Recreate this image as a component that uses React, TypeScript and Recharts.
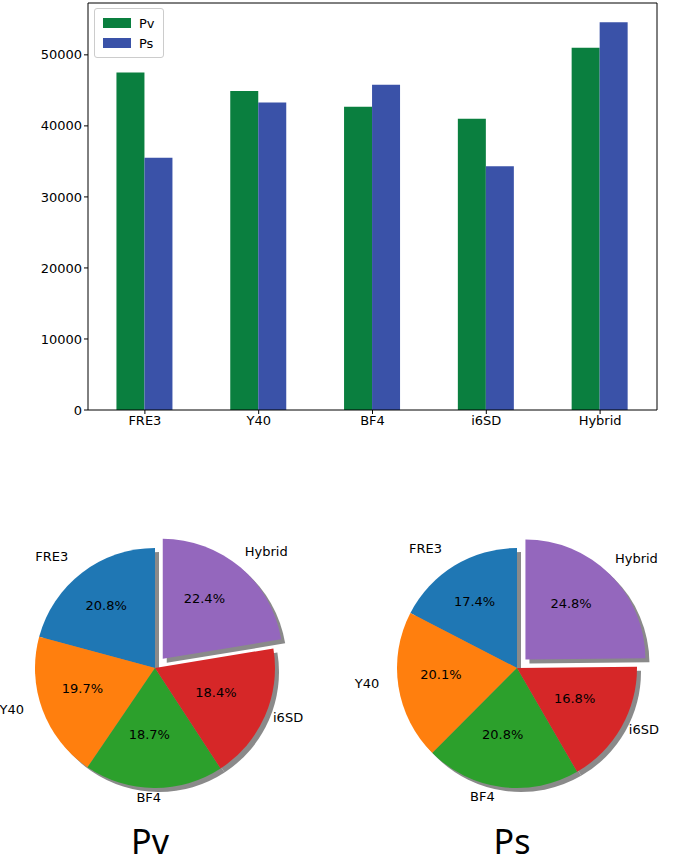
import { Bar, BarChart, Pie, PieChart, Cell, XAxis, YAxis } from "recharts";

const categories = ["FRE3", "Y40", "BF4", "i6SD", "Hybrid"];
const pvValues = [47500, 44900, 42700, 41000, 51000];
const psValues = [35500, 43300, 45800, 34300, 54600];
const yTicks = [0, 10000, 20000, 30000, 40000, 50000];
const pvShares = [20.8, 19.7, 18.7, 18.4, 22.4];
const psShares = [17.4, 20.1, 20.8, 16.8, 24.8];
const pieColors = ["#1f77b4", "#ff7f0e", "#2ca02c", "#d62728", "#9467bd"];

const barData = categories.map((c, i) => ({ name: c, Pv: pvValues[i], Ps: psValues[i] }));
const font = "DejaVu Sans, sans-serif";
const RAD = Math.PI / 180;

function ExplodedPie({ shares, left, title }: { shares: number[]; left: number; title: string }) {
  const data = categories.map((c, i) => ({ name: c, value: shares[i] }));
  const total = shares.reduce((s, v) => s + v, 0);
  const r = 120;
  const cx = 170, cy = 170;
  const last = shares[shares.length - 1];
  const mid = 450 - (last / total) * 180;
  const dx = 0.1 * r * Math.cos(mid * RAD);
  const dy = -0.1 * r * Math.sin(mid * RAD);
  const isLast = (i: number) => i === shares.length - 1;
  const label = (p: any) => {
    const i = p.index;
    const ox = isLast(i) ? dx : 0, oy = isLast(i) ? dy : 0;
    const a = p.midAngle * RAD;
    const ix = cx + ox + 0.6 * r * Math.cos(a), iy = cy + oy - 0.6 * r * Math.sin(a);
    const tx = cx + ox + 1.12 * r * Math.cos(a), ty = cy + oy - 1.12 * r * Math.sin(a);
    const anchor = Math.cos(a) < -0.1 ? "end" : Math.cos(a) > 0.1 ? "start" : "middle";
    return (
      <g>
        <text x={ix} y={iy} textAnchor="middle" dominantBaseline="central" fontSize={13} fontFamily={font} fill="#000">
          {shares[i].toFixed(1)}%
        </text>
        <text x={tx} y={ty} textAnchor={anchor} dominantBaseline="central" fontSize={13} fontFamily={font} fill="#000">
          {categories[i]}
        </text>
      </g>
    );
  };
  const common = { data, dataKey: "value", startAngle: 90, endAngle: 450, outerRadius: r, isAnimationActive: false, stroke: "none" };
  return (
    <div style={{ position: "absolute", left, top: 493 }}>
      <PieChart width={340} height={340}>
        <Pie {...common} cx={cx + 4} cy={cy + 4}>
          {data.map((d, i) => <Cell key={d.name} fill={isLast(i) ? "transparent" : "#8a8a8a"} />)}
        </Pie>
        <Pie {...common} cx={cx + dx + 4} cy={cy + dy + 4}>
          {data.map((d, i) => <Cell key={d.name} fill={isLast(i) ? "#8a8a8a" : "transparent"} />)}
        </Pie>
        <Pie {...common} cx={cx} cy={cy}>
          {data.map((d, i) => <Cell key={d.name} fill={isLast(i) ? "transparent" : pieColors[i]} />)}
        </Pie>
        <Pie {...common} cx={cx + dx} cy={cy + dy} label={label} labelLine={false}>
          {data.map((d, i) => <Cell key={d.name} fill={isLast(i) ? pieColors[i] : "transparent"} />)}
        </Pie>
      </PieChart>
      <div style={{ position: "absolute", left: 0, width: 340, top: 328, textAlign: "center", fontFamily: "Noto Sans, sans-serif", fontSize: 34, lineHeight: "40px" }}>
        {title}
      </div>
    </div>
  );
}

export default function App() {
  return (
    <div style={{ position: "absolute", left: 0, top: 0, width: 680, height: 868, background: "#fff", overflow: "hidden" }}>
      <BarChart width={680} height={440} data={barData} margin={{ top: 2, right: 22, left: 28, bottom: 0 }} barGap={0} barCategoryGap="25%">
        <XAxis dataKey="name" stroke="#000" tick={{ fill: "#000", fontSize: 13, fontFamily: font }} tickSize={4} />
        <XAxis xAxisId="top" orientation="top" dataKey="name" stroke="#000" tick={false} tickLine={false} height={1} />
        <YAxis domain={[0, 57300]} ticks={yTicks} stroke="#000" width={60} tick={{ fill: "#000", fontSize: 13, fontFamily: font }} tickSize={4} />
        <YAxis yAxisId="right" orientation="right" domain={[0, 57300]} stroke="#000" tick={false} tickLine={false} width={1} />
        <Bar dataKey="Pv" fill="#0a7f3f" isAnimationActive={false} />
        <Bar dataKey="Ps" fill="#3a52a8" isAnimationActive={false} />
      </BarChart>
      <div style={{ position: "absolute", left: 94, top: 8, border: "1px solid #ccc", borderRadius: 3, padding: "4px 8px", fontFamily: font, fontSize: 13, background: "#fff" }}>
        {[["Pv", "#0a7f3f"], ["Ps", "#3a52a8"]].map(([n, c]) => (
          <div key={n} style={{ display: "flex", alignItems: "center", gap: 8, height: 20 }}>
            <span style={{ width: 28, height: 10, background: c, display: "inline-block" }} />
            {n}
          </div>
        ))}
      </div>
      <ExplodedPie shares={pvShares} left={-20} title="Pv" />
      <ExplodedPie shares={psShares} left={342} title="Ps" />
    </div>
  );
}
